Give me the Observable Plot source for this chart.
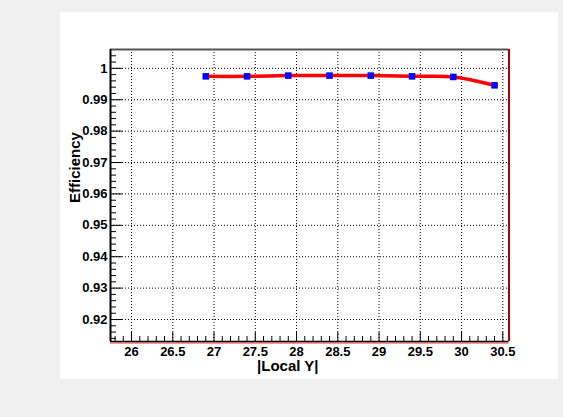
<!DOCTYPE html>
<html><head><meta charset="utf-8">
<script src="https://cdn.jsdelivr.net/npm/d3@7"></script>
<script src="https://cdn.jsdelivr.net/npm/@observablehq/plot@0.6"></script>
<style>
html,body{margin:0;padding:0;background:#f0f0f0;}
#wrap{position:relative;width:563px;height:417px;background:#f0f0f0;overflow:hidden;}
#panel{position:absolute;left:60px;top:12px;width:498px;height:367px;background:#fff;}
#chart{position:absolute;left:0;top:0;}
</style></head><body>
<div id="wrap"><div id="panel"></div><div id="chart"></div></div>
<script>
// data
const localY = [26.9, 27.4, 27.9, 28.4, 28.9, 29.4, 29.9, 30.4];
const efficiency = [0.99745, 0.99745, 0.99768, 0.99768, 0.99768, 0.99745, 0.99726, 0.99459];
const xTicks = [26, 26.5, 27, 27.5, 28, 28.5, 29, 29.5, 30, 30.5];
const xTickLabels = ["26", "26.5", "27", "27.5", "28", "28.5", "29", "29.5", "30", "30.5"];
const yTicks = [0.92, 0.93, 0.94, 0.95, 0.96, 0.97, 0.98, 0.99, 1];
const yTickLabels = ["0.92", "0.93", "0.94", "0.95", "0.96", "0.97", "0.98", "0.99", "1"];
const xDomain = [25.745, 30.575];
const yDomain = [0.913, 1.006];
const xLabel = "|Local Y|";
const yLabel = "Efficiency";

const xMinor = d3.range(258, 306).filter(i => i % 5 !== 0).map(i => i / 10);
const yMinor = d3.range(457, 503).filter(i => i % 5 !== 0).map(i => i / 500);

const data = localY.map((x, i) => ({x, y: efficiency[i]}));
const font = "Liberation Sans, Arial, Helvetica, sans-serif";

const chart = Plot.plot({
  width: 563,
  height: 417,
  marginLeft: 110,
  marginRight: 54.5,
  marginTop: 49,
  marginBottom: 76,
  x: {domain: xDomain, label: null, axis: null},
  y: {domain: yDomain, label: null, axis: null},
  style: {background: "transparent", fontFamily: font, color: "#000", overflow: "visible"},
  marks: [
    Plot.gridX({ticks: xTicks, stroke: "#000", strokeOpacity: 1, strokeDasharray: "1,2"}),
    Plot.gridY({ticks: yTicks, stroke: "#000", strokeOpacity: 1, strokeDasharray: "1,2"}),
    // ticks (inside)
    Plot.axisX({ticks: xTicks, anchor: "bottom", tickSize: -9, tickFormat: () => "", label: null}),
    Plot.axisX({ticks: xMinor, anchor: "bottom", tickSize: -5, tickFormat: () => "", label: null}),
    Plot.axisY({ticks: yTicks, anchor: "left", tickSize: -12, tickFormat: () => "", label: null}),
    Plot.axisY({ticks: yMinor, anchor: "left", tickSize: -6, tickFormat: () => "", label: null}),
    // tick labels
    Plot.axisX({ticks: xTicks, anchor: "bottom", tickSize: 0, tickPadding: 5, label: null,
      tickFormat: d => xTickLabels[xTicks.indexOf(d)], fontSize: 13, fontWeight: "bold"}),
    Plot.axisY({ticks: yTicks, anchor: "left", tickSize: 0, tickPadding: 3, label: null,
      tickFormat: d => yTickLabels[yTicks.indexOf(d)], fontSize: 13, fontWeight: "bold"}),
    // frame
    Plot.ruleY([yDomain[1]], {stroke: "#555", strokeWidth: 2}),
    Plot.ruleX([xDomain[1]], {stroke: "#b00000", strokeWidth: 2}),
    Plot.ruleY([yDomain[0]], {stroke: "#ff3030", strokeWidth: 1, dy: 1.5}),
    Plot.ruleY([yDomain[0]], {stroke: "#000", strokeWidth: 1.5}),
    Plot.ruleX([xDomain[0]], {stroke: "#000", strokeWidth: 2}),
    // data
    Plot.line(data, {x: "x", y: "y", curve: "catmull-rom", stroke: "#ff0000", strokeWidth: 3.5}),
    Plot.dot(data, {x: "x", y: "y", symbol: "square", r: 3.7, fill: "#0000ff", stroke: null}),
    // axis titles
    Plot.text([xLabel], {text: d => d, frameAnchor: "bottom", dx: -22, dy: 25, lineAnchor: "middle",
      textAnchor: "middle", fontSize: 15, fontWeight: "bold", fill: "#000"}),
    Plot.text([yLabel], {text: d => d, frameAnchor: "left", rotate: -90, dx: -35, dy: -28, lineAnchor: "middle",
      textAnchor: "middle", fontSize: 15, fontWeight: "bold", fill: "#000"})
  ]
});
document.getElementById("chart").appendChild(chart);
</script>
</body></html>
